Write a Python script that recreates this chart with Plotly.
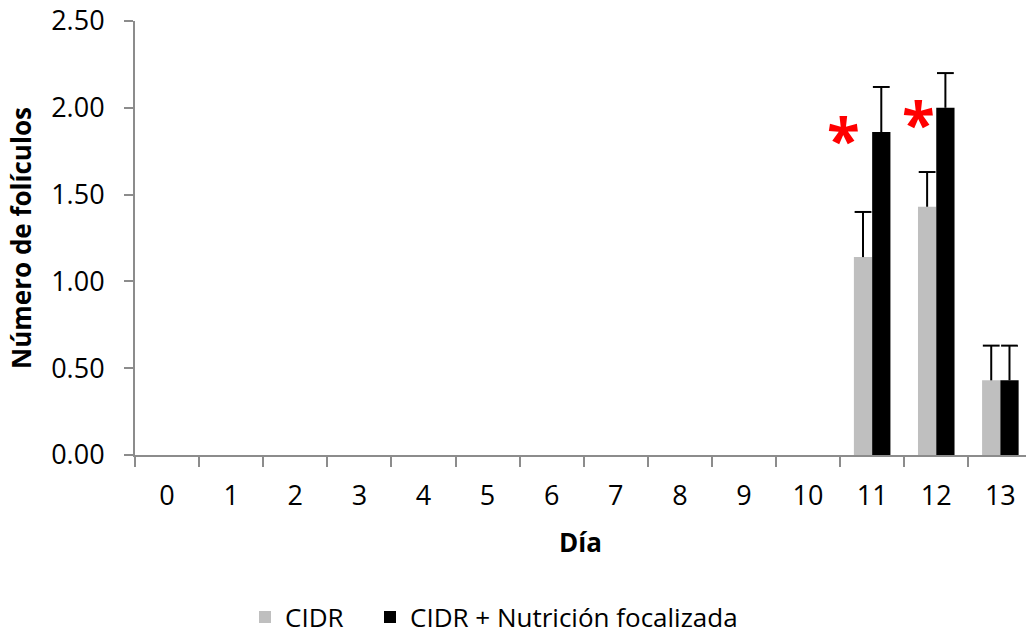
import plotly.graph_objects as go

# Follicle counts per day (mean and upper error) for each treatment group
dias = [str(d) for d in range(14)]
cidr = [0, 0, 0, 0, 0, 0, 0, 0, 0, 0, 0, 1.14, 1.43, 0.43]
cidr_err = [0, 0, 0, 0, 0, 0, 0, 0, 0, 0, 0, 0.26, 0.20, 0.20]
cidr_nut = [0, 0, 0, 0, 0, 0, 0, 0, 0, 0, 0, 1.86, 2.00, 0.43]
cidr_nut_err = [0, 0, 0, 0, 0, 0, 0, 0, 0, 0, 0, 0.26, 0.20, 0.20]

# Significance markers
star_x = [10.56, 11.73]
star_y = [1.82, 1.915]

font_family = "Open Sans, Noto Sans, sans-serif"
axis_grey = "#8c8c8c"
bar_gap = 0.43

fig = go.Figure()


def add_group(name, values, errors, color, group, legend_id):
    # Bar with an upper whisker (no caps); the cap is drawn as a marker on top
    fig.add_trace(go.Bar(
        name=name, x=dias, y=values, offsetgroup=group, legend=legend_id,
        marker=dict(color=color, line=dict(width=0)),
        error_y=dict(type="data", array=errors, arrayminus=[0] * len(errors),
                     symmetric=False, color="black", thickness=2, width=0),
    ))
    cap_x = [d for d, e in zip(dias, errors) if e > 0]
    cap_y = [v + e for v, e in zip(values, errors) if e > 0]
    fig.add_trace(go.Scatter(
        x=cap_x, y=cap_y, mode="markers", offsetgroup=group, showlegend=False,
        hoverinfo="skip",
        marker=dict(symbol="line-ew", size=12, color="black",
                    line=dict(width=2, color="black")),
    ))


add_group("CIDR", cidr, cidr_err, "#bfbfbf", "a", "legend")
add_group("CIDR + Nutrición focalizada", cidr_nut, cidr_nut_err, "#000000", "b", "legend2")

for sx, sy in zip(star_x, star_y):
    fig.add_annotation(x=sx, y=sy, xref="x", yref="y", text="<b>*</b>", showarrow=False,
                       font=dict(family=font_family, size=60, color="#ff0000"),
                       yanchor="middle", xanchor="center")

legend_style = dict(orientation="h", xref="container", yref="container",
                    xanchor="left", y=0.0314, yanchor="middle",
                    font=dict(size=26), itemwidth=30, tracegroupgap=0)

fig.update_layout(
    width=1026, height=637,
    margin=dict(l=135, r=0, t=21, b=182),
    paper_bgcolor="white", plot_bgcolor="white",
    barmode="group", bargap=bar_gap, bargroupgap=0,
    scattermode="group", scattergap=bar_gap,
    font=dict(family=font_family, size=27, color="black"),
    showlegend=True,
    legend=dict(x=245 / 1026, **legend_style),
    legend2=dict(x=370 / 1026, **legend_style),
    xaxis=dict(
        type="category", categoryorder="array", categoryarray=dias,
        range=[-0.5, 13.4], automargin=False,
        showline=True, linecolor=axis_grey, linewidth=2,
        ticks="outside", tickson="boundaries", ticklen=10, tickcolor=axis_grey, tickwidth=2,
        ticklabelstandoff=16,
        showgrid=False, zeroline=False,
        tickfont=dict(size=27),
        title=dict(text="<b>Día</b>", font=dict(size=26), standoff=21),
    ),
    yaxis=dict(
        range=[0, 2.5], tick0=0, dtick=0.5, tickformat=".2f", automargin=False,
        showline=True, linecolor=axis_grey, linewidth=2,
        ticks="outside", ticklen=9, tickcolor=axis_grey, tickwidth=2,
        ticklabelstandoff=14,
        showgrid=False, zeroline=False,
        tickfont=dict(size=27),
        title=dict(text="<b>Número de folículos</b>", font=dict(size=26), standoff=12),
    ),
)

fig.write_html("out.html")
